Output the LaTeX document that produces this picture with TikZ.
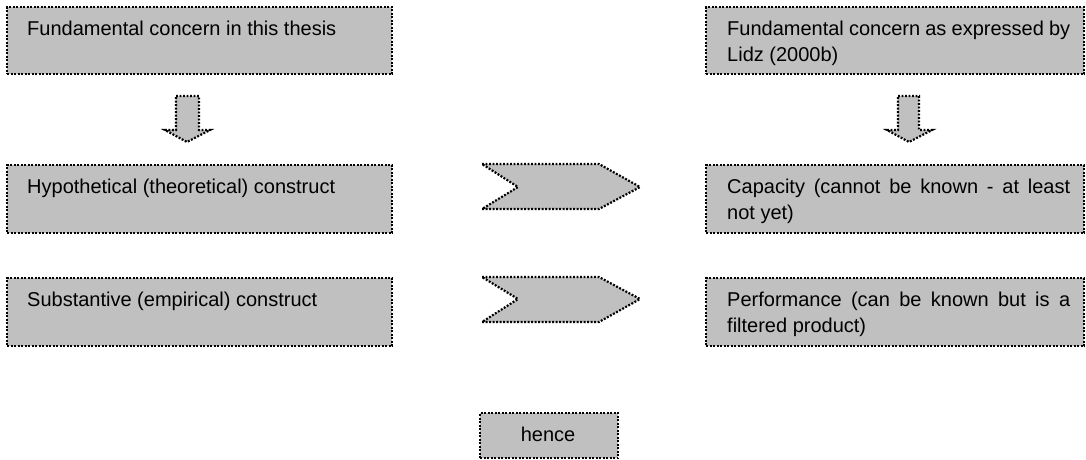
\documentclass[tikz,border=0pt]{standalone}
\usepackage{fontspec}
\setmainfont{Liberation Sans}
\begin{document}
\begin{tikzpicture}[x=1pt,y=-1pt,
  dotline/.style={draw=black,line width=2.2pt,dash pattern=on 1.9pt off 1.6pt,fill=boxgray},
  box/.style={dotline,rectangle,inner sep=0pt,anchor=north west},
  lbl/.style={inner sep=0pt,anchor=base west,font=\fontsize{20}{26}\selectfont},
  rlbl/.style={lbl,text width=343pt,align=justify,
    execute at begin node={\hyphenpenalty=10000\exhyphenpenalty=10000}}]
\definecolor{boxgray}{HTML}{C0C0C0}
\useasboundingbox (0,0) rectangle (1086,459);
% left column boxes
\node[box,minimum width=385pt,minimum height=67pt] (b1) at (6,6) {};
\node[box,minimum width=385pt,minimum height=68pt] (b2) at (6,164) {};
\node[box,minimum width=385pt,minimum height=68pt] (b3) at (6,277) {};
% right column boxes
\node[box,minimum width=378pt,minimum height=67pt] (r1) at (705,6) {};
\node[box,minimum width=378pt,minimum height=68pt] (r2) at (705,164) {};
\node[box,minimum width=378pt,minimum height=68pt] (r3) at (705,277) {};
% hence box
\node[box,minimum width=138pt,minimum height=45pt] (h) at (479,412) {};
% texts
\node[lbl] (t1) at (27,35) {Fundamental concern in this thesis};
\node[lbl] (t2) at (27,193) {Hypothetical (theoretical) construct};
\node[lbl] (t3) at (27,306) {Substantive (empirical) construct};
\node[rlbl] (u1) at (727,35) {Fundamental concern as expressed by Lidz (2000b)};
\node[rlbl] (u2) at (727,193) {Capacity (cannot be known - at least not yet)};
\node[rlbl] (u3) at (727,306) {Performance (can be known but is a filtered product)};
\node[inner sep=0pt,anchor=base,font=\fontsize{20}{26}\selectfont] (ht) at (548,441) {hence};
% down block arrows
\draw[dotline] (176,96) -- (199,96) -- (199,130) -- (210,130) -- (187,142) -- (165,130) -- (176,130) -- cycle;
\draw[dotline] (898,96) -- (919,96) -- (919,130) -- (932,130) -- (909,142) -- (887,130) -- (898,130) -- cycle;
% chevrons
\draw[dotline] (482,164) -- (599,164) -- (640,187) -- (599,209) -- (482,209) -- (518,187) -- cycle;
\draw[dotline] (482,277) -- (599,277) -- (640,299) -- (599,322) -- (482,322) -- (518,299) -- cycle;
\end{tikzpicture}
\end{document}
